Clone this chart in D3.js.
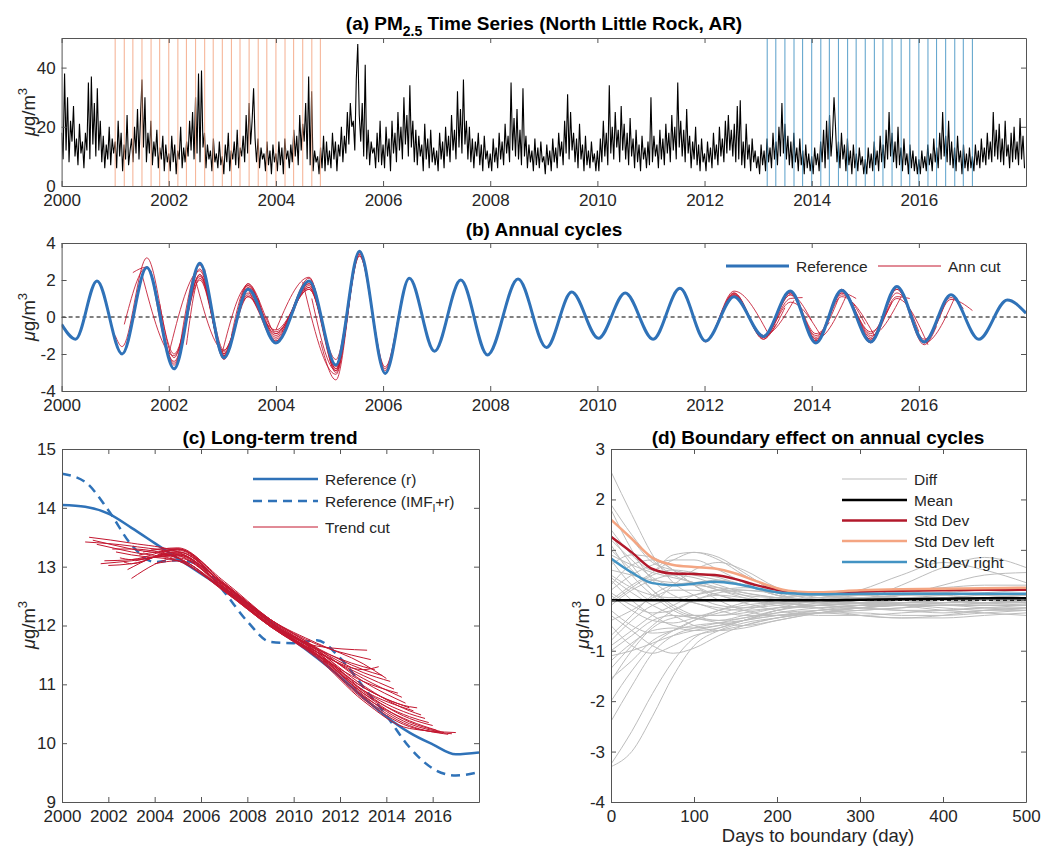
<!DOCTYPE html>
<html>
<head>
<meta charset="utf-8">
<script src="https://cdn.jsdelivr.net/npm/d3@7"></script>
<style>
  body { margin: 0; background: #fff; }
  svg text { font-family: "Liberation Sans", Arial, Helvetica, sans-serif; }
</style>
</head>
<body>
<div id="vis"></div>
<script>
////////// data //////////////////////////////////////////////////////
// (a) PM2.5, about every 10 days (36 per year), 2000-2017
const pm25 = [
  18,9,38,12,30,8,22,15,27,10,16,7, 21,11,15,6,18,12,35,9,37,14,28,10, 33,12,22,8,17,6,14,9,20,7,16,11,
  15,6,22,10,18,5,14,9,24,7,12,16, 8,20,11,26,9,23,36,13,30,8,18,11, 22,7,15,10,19,6,13,9,17,5,14,8,
  11,5,17,8,14,4,12,9,20,6,13,8, 15,10,22,12,25,9,30,11,38,8,39,13, 18,6,14,9,12,5,16,8,11,6,15,7,
  10,4,14,8,18,5,12,9,15,7,19,6, 13,10,17,8,24,11,28,14,22,33,16,8, 16,6,13,9,11,5,15,7,12,4,14,8,
  11,5,15,7,13,4,16,9,12,6,14,8, 19,10,17,7,24,12,21,15,28,9,37,7, 32,5,12,8,10,4,13,6,17,5,15,7,
  12,6,18,9,15,5,14,10,20,8,17,11, 25,14,28,20,22,12,36,48,24,15,28,10, 41,9,19,7,15,11,13,6,18,8,22,7,
  14,6,20,10,16,5,22,11,18,8,25,12, 20,9,30,14,24,10,34,13,22,8,19,7, 17,10,14,5,21,9,16,6,19,8,13,7,
  12,5,18,9,15,6,20,10,17,8,24,12, 19,9,32,13,26,11,36,14,22,9,20,8, 16,6,15,10,18,7,14,5,17,9,12,6,
  11,5,16,8,13,6,18,9,15,7,21,11, 17,8,35,12,23,10,26,9,19,7,33,10, 17,6,14,8,12,5,16,7,13,6,15,8,
  10,4,14,7,12,5,16,8,13,6,18,10, 15,7,22,11,31,9,25,12,18,8,16,6, 21,9,14,5,17,7,12,6,15,8,11,5,
  12,5,16,8,22,10,18,7,34,11,20,9, 25,13,19,8,27,12,21,9,18,7,23,10, 16,6,19,8,14,5,17,9,13,6,15,7,
  30,8,17,10,14,6,19,9,16,7,21,11, 18,8,24,12,20,9,35,13,22,10,19,8, 26,11,17,6,15,9,20,7,14,5,16,8,
  11,5,15,8,13,6,18,9,14,7,20,10, 16,8,22,11,24,12,19,10,21,8,27,9, 29,7,15,6,21,9,14,5,16,8,12,6,
  10,4,14,7,12,5,16,8,13,6,18,9, 15,7,20,10,28,11,21,9,17,7,15,6, 18,8,13,5,16,7,12,4,14,6,11,5,
  10,4,13,7,11,5,15,8,19,6,22,9, 24,10,17,30,20,8,15,6,18,9,14,5, 16,7,12,4,14,6,11,5,13,7,10,4,
  9,4,13,6,11,5,15,7,12,5,17,8, 14,6,19,9,25,10,18,8,15,6,20,7, 13,5,16,7,11,4,14,6,12,5,10,4,
  9,4,12,6,10,5,14,7,11,5,16,8, 13,6,18,9,25,10,17,8,22,7,15,6, 13,5,17,8,12,4,14,6,11,5,13,6,
  10,5,14,7,12,6,16,8,13,7,18,9, 15,8,25,10,19,9,21,8,16,7,22,10, 14,6,18,8,20,9,15,7,23,9,17,6
];
const pmPerYear = 36;

// cut positions (years)
const leftCuts = [2001.00, 2001.17, 2001.33, 2001.50, 2001.67, 2001.83, 2002.00, 2002.17, 2002.33, 2002.50, 2002.67, 2002.83,
                  2003.00, 2003.17, 2003.33, 2003.50, 2003.67, 2003.83, 2004.00, 2004.17, 2004.33, 2004.50, 2004.67, 2004.83];
const rightCuts = [2013.17, 2013.33, 2013.50, 2013.67, 2013.83, 2014.00, 2014.17, 2014.33, 2014.50, 2014.67, 2014.83, 2015.00,
                   2015.17, 2015.33, 2015.50, 2015.67, 2015.83, 2016.00, 2016.17, 2016.33, 2016.50, 2016.67, 2016.83, 2017.00];

// (b) reference annual cycle: turning points
const annT = [2000.00, 2000.26, 2000.66, 2001.13, 2001.59, 2002.10, 2002.58, 2003.03, 2003.48, 2004.00, 2004.62, 2005.12, 2005.56,
              2006.04, 2006.49, 2006.96, 2007.45, 2007.95, 2008.52, 2009.05, 2009.52, 2010.02, 2010.52, 2011.04, 2011.54, 2012.02,
              2012.55, 2013.10, 2013.60, 2014.08, 2014.56, 2015.10, 2015.59, 2016.10, 2016.60, 2017.12, 2017.65, 2018.00];
const annV = [-0.4, -1.2, 1.95, -2.0, 2.67, -2.8, 2.9, -2.2, 1.5, -1.4, 1.95, -2.6, 3.55,
              -3.05, 2.1, -1.85, 2.0, -2.05, 2.05, -1.65, 1.35, -1.15, 1.3, -1.2, 1.55, -1.3,
              1.1, -1.05, 1.4, -1.4, 1.45, -1.35, 1.65, -1.35, 1.2, -1.2, 0.92, 0.2];
// ann cut: value at left cut, next 3 turning points
const annLeftStart = [-1.0, -0.4, 2.4, 2.3, 2.5, 0.7, -2.0, -2.3, -1.5, 2.0, 2.6, 0.1,
                      -1.9, -1.0, 0.5, 1.4, 1.0, 0.0, -0.7, -0.7, 0.3, 1.9, 1.0, -1.3];
const annLeftExt = [[-1.6, 3.2, -2.2], [2.7, -2.5, 2.3], [2.7, -2.6, 2.6], [-2.1, 2.0, -2.0], [-2.4, 2.3, -2.1], [-2.0, 2.2, -1.9],
                    [2.5, -2.3, 1.8], [2.8, -2.1, 1.7], [2.1, -2.0, 1.1], [-1.8, 1.3, -1.2], [-2.0, 1.6, -1.1], [-1.8, 1.2, -1.3],
                    [1.7, -1.0, 1.6], [1.8, -0.8, 1.5], [1.1, -0.9, 1.7], [-0.7, 1.5, -2.3], [-1.3, 2.1, -2.8], [-0.9, 1.8, -2.7],
                    [2.15, -3.0, 3.3], [1.6, -2.9, 3.4], [1.8, -2.8, 3.5], [-3.1, 3.4, -2.9], [-2.9, 3.3, -2.7], [-3.4, 3.5, -2.8]];
// ann cut: last 3 turning points, value at right cut
const annRightExt = [[1.5, -1.3, 1.4], [-1.3, 1.3, -1.2], [-1.35, 1.25, -1.1], [-1.3, 1.2, -1.0], [1.3, -1.1, 1.0], [1.2, -1.2, 1.2],
                     [1.15, -1.1, 0.8], [-1.1, 1.3, -0.9], [-1.0, 1.2, -1.0], [-1.05, 1.35, -1.2], [1.3, -1.2, 1.3], [1.4, -1.1, 1.2],
                     [1.4, -1.3, 1.1], [-1.3, 1.4, -0.9], [-1.4, 1.3, -0.8], [-1.3, 1.4, -1.0], [1.4, -1.2, 1.1], [1.5, -1.1, 1.3],
                     [1.45, -1.3, 1.0], [-1.4, 1.5, -1.5], [-1.3, 1.6, -1.2], [-1.2, 1.65, -1.4], [1.5, -1.3, 1.05], [1.6, -1.4, 0.95]];
const annRightEnd = [-0.8, -0.4, 0.5, 0.9, 1.05, -0.2, -1.0, -0.3, 1.0, 1.3, 1.0, -0.4,
                     -1.0, 0.0, 0.8, 1.1, 1.0, -0.8, -1.5, -0.5, 0.8, 1.05, 0.45, 0.35];

// (c) long-term trend
const trendT = [2000, 2001, 2002, 2003, 2004, 2005, 2006, 2007, 2008, 2009, 2010, 2011, 2012, 2013, 2014, 2015, 2016, 2017, 2018];
const trendRef = [14.05, 14.02, 13.9, 13.66, 13.4, 13.14, 12.88, 12.62, 12.37, 12.06, 11.75, 11.45, 11.13, 10.78, 10.45, 10.18, 9.98, 9.81, 9.84];
const trendImf = [14.58, 14.44, 13.96, 13.37, 13.08, 13.11, 13.02, 12.57, 12.07, 11.72, 11.7, 11.75, 11.45, 10.96, 10.47, 9.93, 9.57, 9.45, 9.51];
const cutKnotT = [2003, 2005, 2007, 2009, 2011, 2013, 2015];
const trendCutStart = [13.42, 13.50, 13.45, 13.38, 13.05, 13.10, 13.02, 13.30, 13.25, 13.15, 13.08, 12.95,
                       12.80, 13.10, 13.20, 13.25, 13.15, 13.30, 13.05, 13.20, 13.25, 13.30, 13.15, 13.20];
const trendCutKnots = [
  [13.35, 13.2, 12.65, 12.05, 11.65, null, null], [13.4, 13.25, 12.7, 12.1, 11.68, 11.45, null],
  [13.3, 13.15, 12.62, 12.02, 11.6, 11.3, null],  [13.25, 13.1, 12.6, 12.0, 11.55, 11.25, null],
  [13.1, 13.2, 12.7, 12.05, 11.62, 11.25, null],  [13.12, 13.3, 12.72, 12.1, 11.7, 11.35, null],
  [13.05, 13.25, 12.68, 12.08, 11.6, 11.2, null], [13.3, 13.15, 12.6, 12.0, 11.55, 11.15, null],
  [13.2, 13.1, 12.58, 11.98, 11.5, 11.05, null],  [13.12, 13.22, 12.65, 12.05, 11.58, 11.1, null],
  [13.05, 13.3, 12.75, 12.1, 11.62, 11.05, null], [null, 13.25, 12.7, 12.05, 11.55, 10.95, null],
  [null, 13.15, 12.65, 12.0, 11.5, 10.9, null],   [null, 13.2, 12.62, 12.02, 11.52, 10.95, 10.62],
  [null, 13.28, 12.68, 12.08, 11.58, 10.98, 10.55], [null, 13.32, 12.72, 12.1, 11.6, 10.9, 10.5],
  [null, 13.18, 12.6, 12.0, 11.5, 10.85, 10.45],  [null, 13.3, 12.66, 12.04, 11.55, 10.88, 10.42],
  [null, 13.1, 12.58, 11.98, 11.48, 10.8, 10.38], [null, 13.22, 12.64, 12.02, 11.52, 10.85, 10.36],
  [null, 13.25, 12.7, 12.06, 11.55, 10.82, 10.33], [null, 13.3, 12.68, 12.04, 11.5, 10.78, 10.3],
  [null, 13.2, 12.62, 12.0, 11.47, 10.75, 10.28], [null, null, 12.6, 11.98, 11.45, 10.72, 10.25]
];
const trendCutEnd = [11.58, 11.42, 11.25, 11.3, 11.15, 11.1, 11.05, 10.92, 10.85, 10.78, 10.68, 10.6,
                     10.55, 10.6, 10.48, 10.42, 10.35, 10.3, 10.22, 10.2, 10.18, 10.15, 10.16, 10.18];

// (d) boundary effect
const diffDays = [0, 25, 50, 75, 100, 130, 160, 200, 250, 300, 350, 400, 450, 500];
const diffCurves = [
  [2.55, 1.7, 0.9, 0.35, 0.1, -0.1, -0.15, -0.1, 0.0, 0.05, 0.05, 0.0, -0.05, 0.0],
  [1.9, 1.3, 0.8, 0.5, 0.35, 0.2, 0.05, -0.1, -0.15, -0.1, -0.05, 0.0, 0.05, 0.05],
  [1.8, 1.0, 0.4, 0.1, -0.05, -0.15, -0.2, -0.15, -0.1, -0.05, 0.0, 0.05, 0.1, 0.1],
  [1.6, 1.2, 0.75, 0.6, 0.5, 0.4, 0.3, 0.1, 0.0, -0.05, -0.1, -0.1, -0.05, 0.0],
  [1.4, 0.9, 0.6, 0.8, 0.95, 0.85, 0.55, 0.15, -0.05, -0.1, -0.1, -0.05, 0.0, 0.05],
  [1.2, 0.8, 0.45, 0.3, 0.35, 0.4, 0.3, 0.1, 0.0, 0.05, 0.1, 0.1, 0.05, 0.05],
  [1.0, 0.6, 0.2, -0.1, -0.3, -0.4, -0.35, -0.2, -0.1, -0.05, 0.0, 0.0, 0.0, -0.05],
  [0.8, 0.3, 0.0, 0.3, 0.6, 0.75, 0.6, 0.25, 0.05, -0.05, -0.1, -0.1, -0.1, -0.1],
  [0.6, 0.5, 0.4, 0.35, 0.3, 0.25, 0.2, 0.15, 0.1, 0.05, 0.1, 0.15, 0.2, 0.2],
  [0.4, 0.0, -0.3, -0.5, -0.55, -0.5, -0.4, -0.2, -0.1, -0.15, -0.2, -0.25, -0.2, -0.15],
  [0.2, 0.5, 0.7, 0.8, 0.8, 0.6, 0.35, 0.1, 0.0, 0.0, 0.1, 0.3, 0.5, 0.55],
  [0.0, 0.3, 0.55, 0.9, 0.95, 0.8, 0.5, 0.2, 0.0, -0.05, -0.05, 0.0, 0.0, 0.05],
  [-0.1, 0.2, 0.4, 0.5, 0.45, 0.3, 0.15, 0.05, -0.05, -0.1, -0.1, -0.15, -0.2, -0.2],
  [-0.3, -0.6, -0.9, -1.05, -0.95, -0.7, -0.5, -0.35, -0.25, -0.2, -0.15, -0.1, -0.1, -0.1],
  [-0.5, -0.9, -1.05, -0.9, -0.7, -0.6, -0.5, -0.35, -0.25, -0.25, -0.3, -0.3, -0.25, -0.2],
  [-0.7, -0.3, 0.1, 0.3, 0.35, 0.25, 0.1, -0.05, -0.1, -0.05, 0.0, 0.05, 0.05, 0.0],
  [-0.8, -0.4, -0.1, 0.0, -0.05, -0.2, -0.3, -0.3, -0.2, -0.1, -0.05, 0.0, 0.05, 0.1],
  [-1.0, -0.7, -0.4, -0.3, -0.35, -0.45, -0.5, -0.4, -0.25, -0.15, -0.1, -0.1, -0.15, -0.2],
  [-1.2, -0.85, -0.6, -0.55, -0.6, -0.55, -0.4, -0.2, -0.05, 0.0, 0.05, 0.05, 0.0, -0.05],
  [-1.35, -0.9, -0.5, -0.2, 0.0, 0.1, 0.05, -0.05, -0.1, -0.15, -0.2, -0.2, -0.15, -0.1],
  [-1.55, -1.2, -0.8, -0.6, -0.5, -0.45, -0.4, -0.3, -0.25, -0.3, -0.35, -0.35, -0.3, -0.25],
  [-1.6, -1.0, -0.55, -0.35, -0.3, -0.3, -0.25, -0.15, -0.1, -0.05, -0.05, -0.05, -0.05, -0.05],
  [-2.4, -1.7, -1.05, -0.7, -0.55, -0.45, -0.35, -0.25, -0.2, -0.15, -0.1, -0.1, -0.1, -0.1],
  [-3.25, -2.6, -1.85, -1.2, -0.75, -0.55, -0.4, -0.25, -0.15, -0.1, -0.05, -0.05, 0.0, 0.0],
  [-3.3, -3.0, -2.3, -1.5, -0.9, -0.6, -0.45, -0.35, -0.25, -0.2, -0.15, -0.1, -0.1, -0.1],
  [-2.0, -1.4, -0.9, -0.6, -0.4, -0.25, -0.15, -0.05, 0.0, 0.05, 0.05, 0.0, -0.05, -0.05],
  [0.3, 0.7, 0.8, 0.6, 0.3, 0.1, 0.0, -0.05, -0.05, 0.0, 0.3, 0.65, 0.85, 0.65],
  [0.9, 0.7, 0.55, 0.45, 0.35, 0.2, 0.1, 0.05, 0.0, 0.2, 0.5, 0.75, 0.6, 0.35],
  [-0.2, -0.5, -0.65, -0.6, -0.4, -0.2, -0.05, 0.05, 0.1, 0.1, 0.05, 0.0, -0.05, -0.1],
  [0.1, -0.2, -0.4, -0.45, -0.35, -0.2, -0.1, -0.05, -0.15, -0.3, -0.35, -0.3, -0.2, -0.15],
  [0.5, 0.25, 0.1, 0.05, 0.1, 0.2, 0.25, 0.2, 0.1, 0.0, -0.1, -0.2, -0.25, -0.3],
  [1.1, 0.5, 0.1, -0.2, -0.35, -0.4, -0.3, -0.15, 0.0, 0.1, 0.15, 0.15, 0.1, 0.05],
  [-0.9, -0.6, -0.3, -0.1, 0.1, 0.2, 0.15, 0.05, 0.0, -0.05, -0.1, -0.1, -0.05, 0.0],
  [0.7, 0.9, 0.85, 0.6, 0.3, 0.0, -0.2, -0.3, -0.25, -0.15, -0.05, 0.0, 0.05, 0.1],
  [-0.4, -0.2, 0.05, 0.2, 0.2, 0.1, -0.05, -0.2, -0.3, -0.3, -0.25, -0.2, -0.15, -0.15],
  [1.3, 0.7, 0.2, -0.15, -0.3, -0.3, -0.2, -0.05, 0.05, 0.1, 0.05, 0.0, 0.0, 0.0],
  [0.15, -0.1, -0.25, -0.2, 0.0, 0.15, 0.2, 0.15, 0.1, 0.15, 0.2, 0.25, 0.3, 0.3],
  [-1.1, -1.0, -0.85, -0.7, -0.6, -0.5, -0.4, -0.3, -0.2, -0.15, -0.1, -0.1, -0.1, -0.1],
  [0.45, 0.15, -0.1, -0.3, -0.5, -0.6, -0.55, -0.4, -0.25, -0.15, -0.1, -0.05, 0.0, 0.0],
  [-0.05, 0.25, 0.5, 0.6, 0.55, 0.45, 0.3, 0.15, 0.05, 0.05, 0.05, 0.1, 0.15, 0.2]
];
const statDays = [0, 25, 50, 75, 100, 125, 150, 175, 200, 225, 250, 300, 350, 400, 450, 500];
const meanDiff = [0, 0, 0, 0, 0, 0, 0, 0, 0, 0, 0, 0.01, 0.02, 0.03, 0.04, 0.04];
const stdAll   = [1.26, 0.95, 0.62, 0.53, 0.52, 0.5, 0.42, 0.3, 0.21, 0.16, 0.15, 0.17, 0.19, 0.2, 0.21, 0.21];
const stdLeft  = [1.6, 1.22, 0.84, 0.7, 0.66, 0.63, 0.53, 0.38, 0.24, 0.17, 0.16, 0.2, 0.22, 0.23, 0.24, 0.25];
const stdRight = [0.83, 0.55, 0.34, 0.3, 0.33, 0.37, 0.33, 0.24, 0.16, 0.13, 0.12, 0.13, 0.13, 0.13, 0.13, 0.13];

////////// colours ///////////////////////////////////////////////////
const cBlue = "#2f72b8", cRed = "#c3162f", cStd = "#b2182b", cLeft = "#f4a582", cRight = "#4393c3";
const axisCol = "#555", labCol = "#262626";

////////// setup /////////////////////////////////////////////////////
const svg = d3.select("#vis").append("svg").attr("width", 1045).attr("height", 855);

function panel(id, left, top, w, h, xDom, yDom) {
  const g = svg.append("g").attr("transform", `translate(${left},${top})`);
  const x = d3.scaleLinear().domain(xDom).range([0, w]);
  const y = d3.scaleLinear().domain(yDom).range([h, 0]);
  g.append("clipPath").attr("id", id).append("rect").attr("width", w).attr("height", h);
  const plot = g.append("g").attr("clip-path", `url(#${id})`);
  return { g, x, y, w, h, plot };
}

function frame(p, xTicks, yTicks) {
  const ax = p.g.append("g");
  const fmt = d => String(d);
  ax.append("g").attr("transform", `translate(0,${p.h})`)
    .call(d3.axisBottom(p.x).tickValues(xTicks).tickSize(-5).tickSizeOuter(0).tickPadding(8).tickFormat(fmt));
  ax.append("g")
    .call(d3.axisTop(p.x).tickValues(xTicks).tickSize(-5).tickSizeOuter(0).tickFormat(""));
  ax.append("g")
    .call(d3.axisLeft(p.y).tickValues(yTicks).tickSize(-5).tickSizeOuter(0).tickPadding(6).tickFormat(fmt));
  ax.append("g").attr("transform", `translate(${p.w},0)`)
    .call(d3.axisRight(p.y).tickValues(yTicks).tickSize(-5).tickSizeOuter(0).tickFormat(""));
  ax.selectAll(".domain").attr("stroke", axisCol).attr("stroke-width", 1);
  ax.selectAll(".tick line").attr("stroke", axisCol);
  ax.selectAll(".tick text").attr("fill", labCol).attr("font-size", 17);
}

function title(x, y, parts) {
  const t = svg.append("text").attr("x", x).attr("y", y).attr("text-anchor", "middle")
    .attr("font-size", 19).attr("font-weight", "bold").attr("fill", "#000");
  parts.forEach(p => {
    const s = t.append("tspan").text(p.text);
    if (p.dy) s.attr("dy", p.dy);
    if (p.size) s.attr("font-size", p.size);
  });
}

function yLabel(x, y) {
  const t = svg.append("text").attr("transform", `translate(${x},${y}) rotate(-90)`)
    .attr("text-anchor", "middle").attr("font-size", 18.5).attr("fill", labCol);
  t.append("tspan").attr("font-style", "italic").text("\u03bc");
  t.append("tspan").text("g/m");
  t.append("tspan").attr("dy", -8).attr("font-size", 13).text("3");
}

function legendRow(x, y, len, style, label) {
  const l = svg.append("line").attr("x1", x).attr("x2", x + len).attr("y1", y).attr("y2", y)
    .attr("stroke", style.color).attr("stroke-width", style.width);
  if (style.dash) l.attr("stroke-dasharray", style.dash);
  const t = svg.append("text").attr("x", x + len + 7).attr("y", y + 5.5)
    .attr("font-size", 15.5).attr("fill", labCol);
  if (typeof label === "string") t.text(label);
  else label(t);
}

////////// (a) PM2.5 time series /////////////////////////////////////
const pa = panel("clipA", 61.6, 38, 964.4, 148, [2000, 2018], [0, 50]);
pa.plot.append("path").datum(pm25)
  .attr("fill", "none").attr("stroke", "#000").attr("stroke-width", 1.1).attr("stroke-linejoin", "bevel")
  .attr("d", d3.line().x((d, i) => pa.x(2000 + i / pmPerYear)).y(d => pa.y(d)));
pa.plot.selectAll(".lcut").data(leftCuts).join("line").attr("class", "lcut")
  .attr("x1", d => pa.x(d)).attr("x2", d => pa.x(d)).attr("y1", 0).attr("y2", pa.h)
  .attr("stroke", cLeft).attr("stroke-width", 1.1).attr("opacity", 0.8);
pa.plot.selectAll(".rcut").data(rightCuts).join("line").attr("class", "rcut")
  .attr("x1", d => pa.x(d)).attr("x2", d => pa.x(d)).attr("y1", 0).attr("y2", pa.h)
  .attr("stroke", cRight).attr("stroke-width", 1.1).attr("opacity", 0.8);
frame(pa, d3.range(2000, 2017, 2), [0, 20, 40]);
title(544, 30, [{ text: "(a) PM" }, { text: "2.5", dy: 6, size: 14 }, { text: " Time Series (North Little Rock, AR)", dy: -6 }]);
yLabel(35, 112);

////////// (b) annual cycles //////////////////////////////////////////
const pb = panel("clipB", 61.6, 243, 964.4, 148, [2000, 2018], [-4, 4]);
const annLine = d3.line().x(d => pb.x(d[0])).y(d => pb.y(d[1])).curve(d3.curveMonotoneX);

function annCutPoints(k) {
  const L = leftCuts[k], R = rightCuts[k];
  const pts = [[L, annLeftStart[k]]];
  const idx = d3.range(annT.length).filter(i => annT[i] > L + 0.12 && annT[i] < R - 0.12);
  idx.forEach((i, j) => {
    let v = annV[i];
    if (j < 3) v = annLeftExt[k][j];
    const fromEnd = idx.length - 1 - j;
    if (fromEnd < 3) v = annRightExt[k][2 - fromEnd];
    pts.push([annT[i], v]);
  });
  pts.push([R, annRightEnd[k]]);
  return pts;
}

pb.plot.append("line").attr("x1", 0).attr("x2", pb.w).attr("y1", pb.y(0)).attr("y2", pb.y(0))
  .attr("stroke", "#000").attr("stroke-width", 1).attr("stroke-dasharray", "4,3");
leftCuts.forEach((L, k) => {
  pb.plot.append("path").attr("d", annLine(annCutPoints(k)))
    .attr("fill", "none").attr("stroke", cRed).attr("stroke-width", 1).attr("opacity", 0.85);
});
pb.plot.append("path").attr("d", annLine(d3.zip(annT, annV)))
  .attr("fill", "none").attr("stroke", cBlue).attr("stroke-width", 3);
frame(pb, d3.range(2000, 2017, 2), [-4, -2, 0, 2, 4]);
title(544, 236, [{ text: "(b) Annual cycles" }]);
yLabel(35, 317);
legendRow(726, 266, 63, { color: cBlue, width: 3 }, "Reference");
legendRow(878, 266, 63, { color: cRed, width: 1 }, "Ann cut");

////////// (c) long-term trend ///////////////////////////////////////
const pc = panel("clipC", 62, 449, 417, 353, [2000, 2018], [9, 15]);
const trendLine = d3.line().x(d => pc.x(d[0])).y(d => pc.y(d[1])).curve(d3.curveMonotoneX);
pc.plot.append("path").attr("d", trendLine(d3.zip(trendT, trendRef)))
  .attr("fill", "none").attr("stroke", cBlue).attr("stroke-width", 2.5);
pc.plot.append("path").attr("d", trendLine(d3.zip(trendT, trendImf)))
  .attr("fill", "none").attr("stroke", cBlue).attr("stroke-width", 2.5).attr("stroke-dasharray", "9,6");
leftCuts.forEach((L, k) => {
  const R = rightCuts[k];
  const pts = [[L, trendCutStart[k]]];
  cutKnotT.forEach((t, j) => {
    const v = trendCutKnots[k][j];
    if (v != null && t > L + 0.3 && t < R - 0.3) pts.push([t, v]);
  });
  pts.push([R, trendCutEnd[k]]);
  pc.plot.append("path").attr("d", trendLine(pts))
    .attr("fill", "none").attr("stroke", cRed).attr("stroke-width", 1);
});
frame(pc, d3.range(2000, 2017, 2), d3.range(9, 16));
title(270, 444, [{ text: "(c) Long-term trend" }]);
yLabel(35, 625);
legendRow(253, 479, 65, { color: cBlue, width: 2.5 }, "Reference (r)");
legendRow(253, 501, 65, { color: cBlue, width: 2.5, dash: "9,6" }, t => {
  t.append("tspan").text("Reference (IMF");
  t.append("tspan").attr("dy", 5).attr("font-size", 11).text("l");
  t.append("tspan").attr("dy", -5).text("+r)");
});
legendRow(253, 527, 65, { color: cRed, width: 1 }, "Trend cut");

////////// (d) boundary effect ///////////////////////////////////////
const pd = panel("clipD", 611, 449, 415, 353, [0, 500], [-4, 3]);
const dLine = d3.line().x(d => pd.x(d[0])).y(d => pd.y(d[1])).curve(d3.curveMonotoneX);
diffCurves.forEach(c => {
  pd.plot.append("path").attr("d", dLine(d3.zip(diffDays, c)))
    .attr("fill", "none").attr("stroke", "#bdbdbd").attr("stroke-width", 1);
});
pd.plot.append("line").attr("x1", 0).attr("x2", pd.w).attr("y1", pd.y(0)).attr("y2", pd.y(0))
  .attr("stroke", "#000").attr("stroke-width", 1).attr("stroke-dasharray", "4,3");
pd.plot.append("path").attr("d", dLine(d3.zip(statDays, meanDiff)))
  .attr("fill", "none").attr("stroke", "#000").attr("stroke-width", 2.5);
[[stdAll, cStd], [stdLeft, cLeft], [stdRight, cRight]].forEach(([vals, col]) => {
  pd.plot.append("path").attr("d", dLine(d3.zip(statDays, vals)))
    .attr("fill", "none").attr("stroke", col).attr("stroke-width", 2.5);
});
frame(pd, d3.range(0, 501, 100), d3.range(-4, 4));
title(818, 444, [{ text: "(d) Boundary effect on annual cycles" }]);
yLabel(589, 625);
svg.append("text").attr("x", 818).attr("y", 842).attr("text-anchor", "middle")
  .attr("font-size", 18.5).attr("fill", labCol).text("Days to boundary (day)");
legendRow(842, 479, 65, { color: "#bdbdbd", width: 1 }, "Diff");
legendRow(842, 500, 65, { color: "#000", width: 2.5 }, "Mean");
legendRow(842, 520.5, 65, { color: cStd, width: 2.5 }, "Std Dev");
legendRow(842, 541, 65, { color: cLeft, width: 2.5 }, "Std Dev left");
legendRow(842, 562, 65, { color: cRight, width: 2.5 }, "Std Dev right");
</script>
</body>
</html>
